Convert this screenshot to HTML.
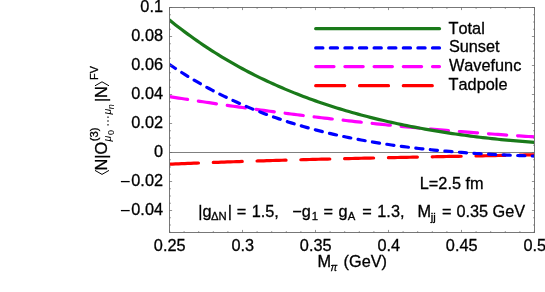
<!DOCTYPE html>
<html><head><meta charset="utf-8"><title>plot</title>
<style>
html,body{margin:0;padding:0;background:#fff;}
svg{display:block;will-change:transform}
text{font-family:"Liberation Sans",sans-serif;font-size:16.3px;fill:#000;stroke:#000;stroke-width:0.3px;font-kerning:none;font-variant-ligatures:none}
.c{fill:none;stroke-width:3.2;stroke-linecap:round;stroke-linejoin:round}
</style></head><body>
<svg width="545" height="292" viewBox="0 0 545 292">
<rect width="545" height="292" fill="#fff"/>
<defs><clipPath id="cp"><rect x="169.5" y="7.5" width="365.0" height="225.0"/></clipPath></defs>
<!-- zero axis -->
<path d="M169.5,152.5H534.5" stroke="#808080" stroke-width="1" fill="none"/>
<g clip-path="url(#cp)">
<path class="c" d="M169.50,164.20 L172.54,164.07 L175.58,163.94 L178.62,163.81 L181.67,163.69 L184.71,163.56 L187.75,163.44 L190.79,163.32 L193.83,163.20 L196.88,163.08 L199.92,162.96 L202.96,162.84 L206.00,162.73 L209.04,162.61 L212.08,162.50 L215.12,162.39 L218.17,162.28 L221.21,162.17 L224.25,162.06 L227.29,161.96 L230.33,161.85 L233.38,161.75 L236.42,161.65 L239.46,161.55 L242.50,161.45 L245.54,161.35 L248.58,161.25 L251.62,161.15 L254.67,161.06 L257.71,160.96 L260.75,160.87 L263.79,160.78 L266.83,160.69 L269.88,160.60 L272.92,160.51 L275.96,160.42 L279.00,160.33 L282.04,160.24 L285.08,160.16 L288.12,160.07 L291.17,159.99 L294.21,159.91 L297.25,159.82 L300.29,159.74 L303.33,159.66 L306.38,159.58 L309.42,159.50 L312.46,159.43 L315.50,159.35 L318.54,159.27 L321.58,159.20 L324.62,159.12 L327.67,159.05 L330.71,158.97 L333.75,158.90 L336.79,158.83 L339.83,158.76 L342.88,158.69 L345.92,158.62 L348.96,158.55 L352.00,158.48 L355.04,158.41 L358.08,158.34 L361.12,158.27 L364.17,158.20 L367.21,158.14 L370.25,158.07 L373.29,158.00 L376.33,157.94 L379.38,157.87 L382.42,157.81 L385.46,157.75 L388.50,157.68 L391.54,157.62 L394.58,157.55 L397.62,157.49 L400.67,157.43 L403.71,157.37 L406.75,157.31 L409.79,157.24 L412.83,157.18 L415.88,157.12 L418.92,157.06 L421.96,157.00 L425.00,156.94 L428.04,156.88 L431.08,156.82 L434.12,156.76 L437.17,156.70 L440.21,156.64 L443.25,156.58 L446.29,156.52 L449.33,156.46 L452.38,156.40 L455.42,156.34 L458.46,156.28 L461.50,156.22 L464.54,156.16 L467.58,156.10 L470.62,156.04 L473.67,155.98 L476.71,155.92 L479.75,155.86 L482.79,155.80 L485.83,155.73 L488.88,155.67 L491.92,155.61 L494.96,155.55 L498.00,155.49 L501.04,155.43 L504.08,155.37 L507.12,155.30 L510.17,155.24 L513.21,155.18 L516.25,155.12 L519.29,155.05 L522.33,154.99 L525.38,154.92 L528.42,154.86 L531.46,154.79 L534.50,154.73" stroke="#ff0000" stroke-dasharray="29.0 14.8"/>
<path class="c" d="M169.50,96.61 L172.54,97.09 L175.58,97.58 L178.62,98.05 L181.67,98.53 L184.71,99.00 L187.75,99.47 L190.79,99.94 L193.83,100.41 L196.88,100.87 L199.92,101.33 L202.96,101.79 L206.00,102.25 L209.04,102.70 L212.08,103.15 L215.12,103.60 L218.17,104.05 L221.21,104.49 L224.25,104.93 L227.29,105.37 L230.33,105.80 L233.38,106.24 L236.42,106.67 L239.46,107.10 L242.50,107.52 L245.54,107.95 L248.58,108.37 L251.62,108.79 L254.67,109.20 L257.71,109.62 L260.75,110.03 L263.79,110.44 L266.83,110.84 L269.88,111.25 L272.92,111.65 L275.96,112.05 L279.00,112.44 L282.04,112.84 L285.08,113.23 L288.12,113.62 L291.17,114.00 L294.21,114.39 L297.25,114.77 L300.29,115.15 L303.33,115.53 L306.38,115.90 L309.42,116.27 L312.46,116.64 L315.50,117.01 L318.54,117.37 L321.58,117.73 L324.62,118.09 L327.67,118.45 L330.71,118.80 L333.75,119.15 L336.79,119.50 L339.83,119.85 L342.88,120.19 L345.92,120.53 L348.96,120.87 L352.00,121.21 L355.04,121.54 L358.08,121.88 L361.12,122.20 L364.17,122.53 L367.21,122.86 L370.25,123.18 L373.29,123.50 L376.33,123.81 L379.38,124.13 L382.42,124.44 L385.46,124.75 L388.50,125.06 L391.54,125.36 L394.58,125.66 L397.62,125.96 L400.67,126.26 L403.71,126.55 L406.75,126.84 L409.79,127.13 L412.83,127.42 L415.88,127.71 L418.92,127.99 L421.96,128.27 L425.00,128.54 L428.04,128.82 L431.08,129.09 L434.12,129.36 L437.17,129.63 L440.21,129.89 L443.25,130.15 L446.29,130.41 L449.33,130.67 L452.38,130.93 L455.42,131.18 L458.46,131.43 L461.50,131.67 L464.54,131.92 L467.58,132.16 L470.62,132.40 L473.67,132.64 L476.71,132.87 L479.75,133.11 L482.79,133.33 L485.83,133.56 L488.88,133.79 L491.92,134.01 L494.96,134.23 L498.00,134.45 L501.04,134.66 L504.08,134.87 L507.12,135.08 L510.17,135.29 L513.21,135.50 L516.25,135.70 L519.29,135.90 L522.33,136.10 L525.38,136.29 L528.42,136.48 L531.46,136.67 L534.50,136.86" stroke="#ff00ff" stroke-dasharray="18.3 10.9"/>
<path class="c" d="M169.50,64.47 L172.54,66.52 L175.58,68.54 L178.62,70.53 L181.67,72.48 L184.71,74.39 L187.75,76.27 L190.79,78.12 L193.83,79.93 L196.88,81.71 L199.92,83.46 L202.96,85.17 L206.00,86.86 L209.04,88.51 L212.08,90.13 L215.12,91.73 L218.17,93.29 L221.21,94.82 L224.25,96.32 L227.29,97.80 L230.33,99.25 L233.38,100.67 L236.42,102.06 L239.46,103.42 L242.50,104.76 L245.54,106.07 L248.58,107.36 L251.62,108.62 L254.67,109.86 L257.71,111.07 L260.75,112.25 L263.79,113.42 L266.83,114.55 L269.88,115.67 L272.92,116.76 L275.96,117.83 L279.00,118.88 L282.04,119.91 L285.08,120.91 L288.12,121.90 L291.17,122.86 L294.21,123.80 L297.25,124.72 L300.29,125.63 L303.33,126.51 L306.38,127.37 L309.42,128.22 L312.46,129.04 L315.50,129.85 L318.54,130.64 L321.58,131.41 L324.62,132.17 L327.67,132.91 L330.71,133.63 L333.75,134.34 L336.79,135.02 L339.83,135.70 L342.88,136.35 L345.92,137.00 L348.96,137.62 L352.00,138.24 L355.04,138.83 L358.08,139.42 L361.12,139.99 L364.17,140.54 L367.21,141.09 L370.25,141.61 L373.29,142.13 L376.33,142.63 L379.38,143.12 L382.42,143.60 L385.46,144.07 L388.50,144.52 L391.54,144.97 L394.58,145.40 L397.62,145.82 L400.67,146.23 L403.71,146.63 L406.75,147.02 L409.79,147.40 L412.83,147.76 L415.88,148.12 L418.92,148.47 L421.96,148.81 L425.00,149.14 L428.04,149.46 L431.08,149.77 L434.12,150.07 L437.17,150.37 L440.21,150.65 L443.25,150.93 L446.29,151.20 L449.33,151.46 L452.38,151.71 L455.42,151.96 L458.46,152.20 L461.50,152.43 L464.54,152.65 L467.58,152.87 L470.62,153.08 L473.67,153.28 L476.71,153.48 L479.75,153.67 L482.79,153.85 L485.83,154.03 L488.88,154.20 L491.92,154.36 L494.96,154.52 L498.00,154.67 L501.04,154.82 L504.08,154.96 L507.12,155.09 L510.17,155.22 L513.21,155.35 L516.25,155.47 L519.29,155.58 L522.33,155.69 L525.38,155.79 L528.42,155.89 L531.46,155.99 L534.50,156.08" stroke="#0000ff" stroke-dasharray="7.2 7.4"/>
<path class="c" d="M169.50,20.04 L172.54,22.49 L175.58,24.89 L178.62,27.25 L181.67,29.58 L184.71,31.87 L187.75,34.12 L190.79,36.33 L193.83,38.50 L196.88,40.64 L199.92,42.75 L202.96,44.81 L206.00,46.85 L209.04,48.85 L212.08,50.81 L215.12,52.75 L218.17,54.65 L221.21,56.52 L224.25,58.35 L227.29,60.16 L230.33,61.93 L233.38,63.68 L236.42,65.39 L239.46,67.08 L242.50,68.73 L245.54,70.36 L248.58,71.96 L251.62,73.53 L254.67,75.08 L257.71,76.60 L260.75,78.09 L263.79,79.55 L266.83,80.99 L269.88,82.41 L272.92,83.80 L275.96,85.16 L279.00,86.51 L282.04,87.82 L285.08,89.12 L288.12,90.39 L291.17,91.64 L294.21,92.87 L297.25,94.08 L300.29,95.26 L303.33,96.42 L306.38,97.57 L309.42,98.69 L312.46,99.79 L315.50,100.87 L318.54,101.94 L321.58,102.98 L324.62,104.01 L327.67,105.01 L330.71,106.00 L333.75,106.97 L336.79,107.93 L339.83,108.86 L342.88,109.78 L345.92,110.68 L348.96,111.57 L352.00,112.44 L355.04,113.29 L358.08,114.13 L361.12,114.96 L364.17,115.76 L367.21,116.56 L370.25,117.33 L373.29,118.10 L376.33,118.85 L379.38,119.58 L382.42,120.31 L385.46,121.01 L388.50,121.71 L391.54,122.39 L394.58,123.06 L397.62,123.72 L400.67,124.36 L403.71,124.99 L406.75,125.61 L409.79,126.22 L412.83,126.81 L415.88,127.40 L418.92,127.97 L421.96,128.53 L425.00,129.08 L428.04,129.62 L431.08,130.15 L434.12,130.67 L437.17,131.17 L440.21,131.67 L443.25,132.16 L446.29,132.63 L449.33,133.10 L452.38,133.56 L455.42,134.00 L458.46,134.44 L461.50,134.86 L464.54,135.28 L467.58,135.69 L470.62,136.09 L473.67,136.47 L476.71,136.85 L479.75,137.22 L482.79,137.58 L485.83,137.93 L488.88,138.28 L491.92,138.61 L494.96,138.93 L498.00,139.25 L501.04,139.56 L504.08,139.85 L507.12,140.14 L510.17,140.42 L513.21,140.69 L516.25,140.96 L519.29,141.21 L522.33,141.45 L525.38,141.69 L528.42,141.92 L531.46,142.13 L534.50,142.34" stroke="#1a7a1a"/>
</g>
<!-- frame -->
<rect x="169.5" y="7.5" width="365.0" height="225.0" fill="none" stroke="#777" stroke-width="1"/>
<path d="M169.50,232.5v-2.6 M169.50,7.5v2.6 M184.10,232.5v-1.4 M184.10,7.5v1.4 M198.70,232.5v-1.4 M198.70,7.5v1.4 M213.30,232.5v-1.4 M213.30,7.5v1.4 M227.90,232.5v-1.4 M227.90,7.5v1.4 M242.50,232.5v-2.6 M242.50,7.5v2.6 M257.10,232.5v-1.4 M257.10,7.5v1.4 M271.70,232.5v-1.4 M271.70,7.5v1.4 M286.30,232.5v-1.4 M286.30,7.5v1.4 M300.90,232.5v-1.4 M300.90,7.5v1.4 M315.50,232.5v-2.6 M315.50,7.5v2.6 M330.10,232.5v-1.4 M330.10,7.5v1.4 M344.70,232.5v-1.4 M344.70,7.5v1.4 M359.30,232.5v-1.4 M359.30,7.5v1.4 M373.90,232.5v-1.4 M373.90,7.5v1.4 M388.50,232.5v-2.6 M388.50,7.5v2.6 M403.10,232.5v-1.4 M403.10,7.5v1.4 M417.70,232.5v-1.4 M417.70,7.5v1.4 M432.30,232.5v-1.4 M432.30,7.5v1.4 M446.90,232.5v-1.4 M446.90,7.5v1.4 M461.50,232.5v-2.6 M461.50,7.5v2.6 M476.10,232.5v-1.4 M476.10,7.5v1.4 M490.70,232.5v-1.4 M490.70,7.5v1.4 M505.30,232.5v-1.4 M505.30,7.5v1.4 M519.90,232.5v-1.4 M519.90,7.5v1.4 M534.50,232.5v-2.6 M534.50,7.5v2.6 M169.5,232.25h1.4 M534.5,232.25h-1.4 M169.5,225.00h1.4 M534.5,225.00h-1.4 M169.5,217.75h1.4 M534.5,217.75h-1.4 M169.5,210.50h2.6 M534.5,210.50h-2.6 M169.5,203.25h1.4 M534.5,203.25h-1.4 M169.5,196.00h1.4 M534.5,196.00h-1.4 M169.5,188.75h1.4 M534.5,188.75h-1.4 M169.5,181.50h2.6 M534.5,181.50h-2.6 M169.5,174.25h1.4 M534.5,174.25h-1.4 M169.5,167.00h1.4 M534.5,167.00h-1.4 M169.5,159.75h1.4 M534.5,159.75h-1.4 M169.5,152.50h2.6 M534.5,152.50h-2.6 M169.5,145.25h1.4 M534.5,145.25h-1.4 M169.5,138.00h1.4 M534.5,138.00h-1.4 M169.5,130.75h1.4 M534.5,130.75h-1.4 M169.5,123.50h2.6 M534.5,123.50h-2.6 M169.5,116.25h1.4 M534.5,116.25h-1.4 M169.5,109.00h1.4 M534.5,109.00h-1.4 M169.5,101.75h1.4 M534.5,101.75h-1.4 M169.5,94.50h2.6 M534.5,94.50h-2.6 M169.5,87.25h1.4 M534.5,87.25h-1.4 M169.5,80.00h1.4 M534.5,80.00h-1.4 M169.5,72.75h1.4 M534.5,72.75h-1.4 M169.5,65.50h2.6 M534.5,65.50h-2.6 M169.5,58.25h1.4 M534.5,58.25h-1.4 M169.5,51.00h1.4 M534.5,51.00h-1.4 M169.5,43.75h1.4 M534.5,43.75h-1.4 M169.5,36.50h2.6 M534.5,36.50h-2.6 M169.5,29.25h1.4 M534.5,29.25h-1.4 M169.5,22.00h1.4 M534.5,22.00h-1.4 M169.5,14.75h1.4 M534.5,14.75h-1.4 M169.5,7.50h2.6 M534.5,7.50h-2.6" stroke="#666" stroke-width="0.7" fill="none"/>
<!-- legend -->
<path class="c" d="M315.7,28.7H439.5" stroke="#1a7a1a"/>
<path class="c" d="M315.7,47.9H439.5" stroke="#0000ff" stroke-dasharray="7.2 7.4"/>
<path class="c" d="M315.7,66.6H439.5" stroke="#ff00ff" stroke-dasharray="18.3 10.9"/>
<path class="c" d="M315.7,85.7H439.5" stroke="#ff0000" stroke-dasharray="29.0 14.8"/>
<text x="448.6" y="33.7">Total</text>
<text x="448.9" y="52.4">Sunset</text>
<text x="448.9" y="71.0">Wavefunc</text>
<text x="448.6" y="89.7">Tadpole</text>
<!-- tick labels -->
<text x="163.0" y="11.50" text-anchor="end">0.1</text>
<text x="163.0" y="41.00" text-anchor="end">0.08</text>
<text x="163.0" y="70.00" text-anchor="end">0.06</text>
<text x="163.0" y="99.00" text-anchor="end">0.04</text>
<text x="163.0" y="128.00" text-anchor="end">0.02</text>
<text x="163.0" y="157.00" text-anchor="end">0</text>
<text x="163.0" y="186.00" text-anchor="end">0.02</text>
<path d="M120.9,181.60H129.7" stroke="#000" stroke-width="1.3" fill="none"/>
<text x="163.0" y="215.00" text-anchor="end">0.04</text>
<path d="M120.9,210.60H129.7" stroke="#000" stroke-width="1.3" fill="none"/>
<text x="169.70" y="250.6" text-anchor="middle">0.25</text>
<text x="242.70" y="250.6" text-anchor="middle">0.3</text>
<text x="315.70" y="250.6" text-anchor="middle">0.35</text>
<text x="388.70" y="250.6" text-anchor="middle">0.4</text>
<text x="461.70" y="250.6" text-anchor="middle">0.45</text>
<text x="534.70" y="250.6" text-anchor="middle">0.5</text>

<!-- annotations -->
<text x="419.8" y="189.2">L=2.5 fm</text>
<text y="217.2"><tspan x="198.3">|g</tspan><tspan font-size="11.3" dy="2.9" dx="-0.7">ΔN</tspan><tspan dy="-2.9" dx="1.2">|</tspan><tspan x="236.8">=</tspan><tspan x="251.7">1.5,</tspan><tspan x="292.2">−g</tspan><tspan font-size="11.3" dy="2.9" dx="0.9">1</tspan><tspan dy="-2.9" x="323.6">=</tspan><tspan x="338.6">g</tspan><tspan font-size="11.3" dy="2.9">A</tspan><tspan dy="-2.9" x="362.2">=</tspan><tspan x="377.3">1.3,</tspan><tspan x="417.4">M</tspan><tspan font-size="11.3" dy="3.3" dx="-0.2">jj</tspan><tspan dy="-3.3" x="442.1">=</tspan><tspan x="456.4">0.35 GeV</tspan></text>
<!-- x label -->
<text y="267.2"><tspan x="317.6">M</tspan><tspan font-size="10" dy="3.8" dx="-0.6" font-style="italic">π</tspan><tspan dy="-3.8" x="343.6">(GeV)</tspan></text>
<!-- y label -->
<g transform="translate(107.2,175) rotate(-90)">
<path d="M4.6,-12.2 L0.6,-5.2 L4.6,1.8" fill="none" stroke="#000" stroke-width="1.0"/>
<text x="4.6" y="0">N|O</text>
<text x="33.8" y="-8.8" style="font-size:11.2px">(3)</text>
<text x="33.4" y="4.2" style="font-size:10.5px;font-style:italic;stroke-width:0">μ</text>
<text x="39.9" y="7.2" style="font-size:9px;stroke-width:0">0</text>
<rect x="49.5" y="0.1" width="1.4" height="1.4" fill="#222"/><rect x="53.3" y="0.1" width="1.4" height="1.4" fill="#222"/><rect x="57.1" y="0.1" width="1.4" height="1.4" fill="#222"/>
<text x="60.4" y="4.2" style="font-size:10.5px;font-style:italic;stroke-width:0">μ</text>
<text x="65.8" y="7.2" style="font-size:9px;font-style:italic;stroke-width:0">n</text>
<text x="72.9" y="0">|N</text>
<path d="M89.2,-12.2 L93.2,-5.2 L89.2,1.8" fill="none" stroke="#000" stroke-width="1.0"/>
<text x="94.9" y="-9.0" style="font-size:10.8px;letter-spacing:0.3px">FV</text>
</g>
</svg>
</body></html>
